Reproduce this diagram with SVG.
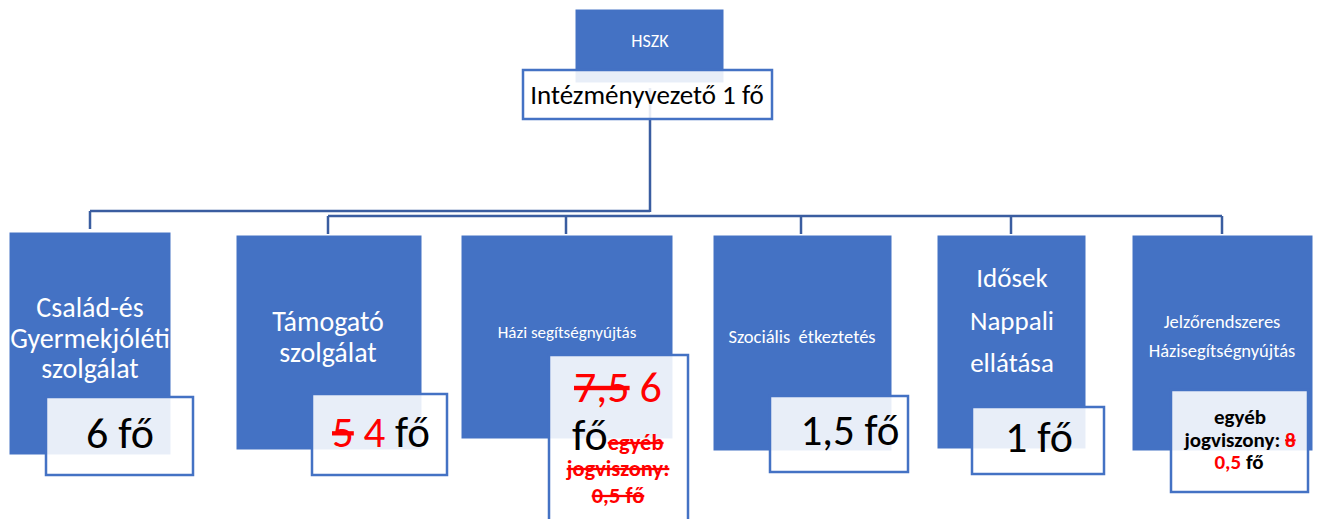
<svg xmlns="http://www.w3.org/2000/svg" width="1320" height="519" viewBox="0 0 1320 519">
<style>
.unit{fill:#4472C4;stroke:#FFFFFF;stroke-width:1}
.cnt{fill:#FFFFFF;fill-opacity:0.88;stroke:#4472C4;stroke-width:2.5}
.w{fill:#FFFFFF;font-family:Carlito,Lato,"Liberation Sans",sans-serif;text-anchor:middle}
.b{fill:#000000;font-family:Carlito,Lato,"Liberation Sans",sans-serif}
.r{fill:#FF0000}
.s{text-decoration:line-through}
.conn{fill:none;stroke:#3A5DA0;stroke-width:2.5}
</style>
<rect width="1320" height="519" fill="#FFFFFF"/>
<g id="connectors">
<path class="conn" d="M650,88 V212 M90,211 H650 M90,211 V229 M328,216 H1222 M328,216 V234 M566,216 V234 M801,216 V234 M1011,216 V234 M1222,216 V234"/>
</g>
<g id="hszk">
<rect class="unit" x="575" y="9" width="149" height="74"/>
<text class="w" x="650" y="47" font-size="18">HSZK</text>
<rect class="cnt" x="523" y="70" width="249" height="49"/>
<text class="b" x="647" y="104" font-size="27" text-anchor="middle">Intézményvezető 1 fő</text>
</g>
<g id="csalad">
<rect class="unit" x="9" y="232" width="162" height="223"/>
<text class="w" font-size="28"><tspan x="90" y="317">Család-és</tspan><tspan x="90" y="348">Gyermekjóléti</tspan><tspan x="90" y="378">szolgálat</tspan></text>
<rect class="cnt" x="46" y="397" width="147" height="78"/>
<text class="b" x="120" y="448" font-size="44" text-anchor="middle">6 fő</text>
</g>
<g id="tamogato">
<rect class="unit" x="236" y="235" width="186" height="215"/>
<text class="w" font-size="28"><tspan x="328" y="331">Támogató</tspan><tspan x="328" y="362">szolgálat</tspan></text>
<rect class="cnt" x="312" y="394" width="135" height="81"/>
<text class="b" x="332" y="447" font-size="43"><tspan class="r s">5</tspan> <tspan class="r">4</tspan> fő</text>
</g>
<g id="hazi">
<rect class="unit" x="461" y="235" width="212" height="204"/>
<text class="w" x="567" y="338" font-size="17">Házi segítségnyújtás</text>
<rect class="cnt" x="549" y="355" width="139" height="180"/>
<text class="b" x="574" y="402" font-size="44"><tspan class="r s">7,5</tspan><tspan class="r"> 6</tspan></text>
<text class="b" x="572" y="450" font-size="44">fő<tspan class="r s" font-size="22.5" font-weight="bold">egyéb</tspan></text>
<text class="b r s" font-size="22.5" font-weight="bold" text-anchor="middle"><tspan x="618" y="476">jogviszony:</tspan><tspan x="618" y="503">0,5 fő</tspan></text>
</g>
<g id="szocialis">
<rect class="unit" x="713" y="235" width="179" height="216"/>
<text class="w" x="802" y="343" font-size="18.5" xml:space="preserve">Szociális  étkeztetés</text>
<rect class="cnt" x="770" y="396" width="138" height="76"/>
<text class="b" x="850" y="445" font-size="43" text-anchor="middle">1,5 fő</text>
</g>
<g id="idosek">
<rect class="unit" x="937" y="235" width="149" height="214"/>
<text class="w" font-size="27"><tspan x="1012" y="287">Idősek</tspan><tspan x="1012" y="330">Nappali</tspan><tspan x="1012" y="372">ellátása</tspan></text>
<rect class="cnt" x="972" y="407" width="132" height="67"/>
<text class="b" x="1039" y="452" font-size="44" text-anchor="middle">1 fő</text>
</g>
<g id="jelzo">
<rect class="unit" x="1132" y="235" width="181" height="216"/>
<text class="w" font-size="18.5"><tspan x="1222" y="328">Jelzőrendszeres</tspan><tspan x="1222" y="357">Házisegítségnyújtás</tspan></text>
<rect class="cnt" x="1171" y="390" width="137" height="102"/>
<text class="b" font-size="21" font-weight="bold" text-anchor="middle"><tspan x="1240" y="424">egyéb</tspan><tspan x="1240" y="447">jogviszony: <tspan class="r s">8</tspan></tspan><tspan x="1239" y="469"><tspan class="r">0,5</tspan> fő</tspan></text>
</g>
</svg>
